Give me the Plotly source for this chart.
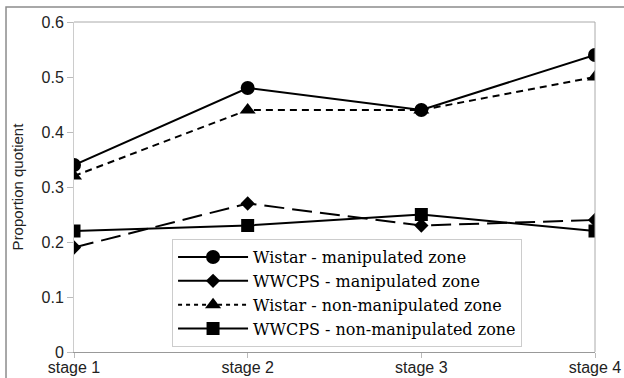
import plotly.graph_objects as go

stages = ["stage 1", "stage 2", "stage 3", "stage 4"]
wistar_manip = [0.34, 0.48, 0.44, 0.54]
wwcps_manip = [0.19, 0.27, 0.23, 0.24]
wistar_nonmanip = [0.32, 0.44, 0.44, 0.50]
wwcps_nonmanip = [0.22, 0.23, 0.25, 0.22]
y_ticks = [0, 0.1, 0.2, 0.3, 0.4, 0.5, 0.6]
y_tick_labels = ["0", "0.1", "0.2", "0.3", "0.4", "0.5", "0.6"]

names = ["Wistar - manipulated zone", "WWCPS - manipulated zone",
         "Wistar - non-manipulated zone", "WWCPS - non-manipulated zone"]
series = [wistar_manip, wwcps_manip, wistar_nonmanip, wwcps_nonmanip]
symbols = ["circle", "diamond", "triangle-up", "square"]
msizes = [14, 11, 14, 13]
dashes = ["solid", "20px,8px", "7px,5px", "solid"]
legend_dashes = ["solid", "solid", "4px,4px", "solid"]

fig = go.Figure()
for name, ys, sym, ms, d in zip(names, series, symbols, msizes, dashes):
    fig.add_trace(go.Scatter(
        x=stages, y=ys, mode="lines+markers", name=name, showlegend=False,
        line=dict(color="black", width=2, dash=d),
        marker=dict(symbol=sym, size=ms, color="black")))
for name, sym, ms, d in zip(names, symbols, msizes, legend_dashes):
    fig.add_trace(go.Scatter(
        x=[None], y=[None], mode="lines+markers", name=name,
        line=dict(color="black", width=2, dash=d),
        marker=dict(symbol=sym, size=ms, color="black")))

# outer frame
fig.add_shape(type="rect", xref="paper", yref="paper",
              x0=-0.1305, x1=1.2, y0=-0.3, y1=1.0455,
              line=dict(color="#8c8c8c", width=1.5), layer="below")

fig.update_layout(
    width=624, height=378,
    margin=dict(l=74, r=29, t=22, b=26),
    paper_bgcolor="white", plot_bgcolor="white",
    font=dict(family="Liberation Sans, Arial, sans-serif", size=16, color="#222"),
    xaxis=dict(type="category", range=[0, 3], showgrid=False, automargin=False,
               showline=True, linecolor="#999", linewidth=1, mirror=False,
               ticks="outside", ticklen=5, tickcolor="#bbb", ticklabelstandoff=-4,
               tickfont=dict(size=16, color="#222"), zeroline=False),
    yaxis=dict(range=[0, 0.6], tickvals=y_ticks, ticktext=y_tick_labels,
               showgrid=False, automargin=False,
               showline=True, linecolor="#ccc", linewidth=1,
               ticks="outside", ticklen=6, tickcolor="#bbb",
               tickfont=dict(size=16, color="#222"), zeroline=False,
               title=dict(text="Proportion quotient", font=dict(size=15, color="#222"), standoff=14)),
    legend=dict(x=0.1882, y=0.342, xanchor="left", yanchor="top",
                bgcolor="white", bordercolor="#ccc", borderwidth=1,
                font=dict(family="DejaVu Serif", size=16, color="black"),
                itemwidth=70, tracegroupgap=0),
    showlegend=True,
)
fig.add_shape(type="line", xref="paper", yref="paper", x0=0, x1=1, y0=1, y1=1,
              line=dict(color="#aaa", width=1))
fig.add_shape(type="line", xref="paper", yref="paper", x0=1, x1=1, y0=0, y1=1,
              line=dict(color="#aaa", width=1))

fig.write_html("out.html", config={"displayModeBar": False},
               post_script="document.body.style.margin='0';document.body.style.overflow='hidden';")
